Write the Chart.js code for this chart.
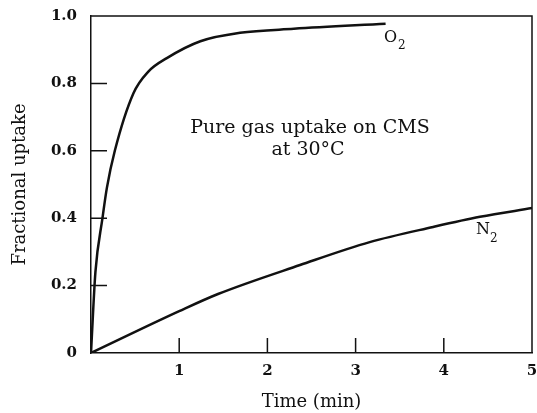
<!DOCTYPE html>
<html>
<head>
<meta charset="utf-8">
<script src="https://cdn.jsdelivr.net/npm/chart.js@4"></script>
<style>
  html, body { margin: 0; padding: 0; background: #fff; }
  #wrap { width: 537px; height: 413px; }
</style>
</head>
<body>
<div id="wrap"><canvas id="uptakeChart" width="537" height="413"></canvas></div>
<script>
// data
const o2Time   = [0, 0.05, 0.13, 0.18, 0.27, 0.48, 0.65, 0.86, 1.24, 1.69, 2.3, 3.34];
const o2Uptake = [0, 0.24, 0.40, 0.49, 0.60, 0.77, 0.835, 0.875, 0.925, 0.95, 0.962, 0.977];
const n2Time   = [0, 1.0, 1.44, 2.37, 3.16, 3.88, 4.41, 5.0];
const n2Uptake = [0, 0.124, 0.175, 0.261, 0.329, 0.374, 0.404, 0.43];
const xTicks = [1, 2, 3, 4, 5];
const yTicks = [0, 0.2, 0.4, 0.6, 0.8, 1.0];
const xInnerTicks = [1, 2, 3, 4];
const yInnerTicks = [0.2, 0.4, 0.6, 0.8];

const serif = '"DejaVu Serif", "Liberation Serif", serif';
const ink = '#111';

function toPoints(xs, ys) {
    return xs.map((x, i) => ({ x: x, y: ys[i] }));
}

// inward tick marks, frame box and annotations
const framePlugin = {
    id: 'framePlugin',
    afterDraw: function(chart) {
        const ctx = chart.ctx;
        const area = chart.chartArea;
        const xs = chart.scales.x;
        const ys = chart.scales.y;
        ctx.save();
        ctx.strokeStyle = ink;
        ctx.lineWidth = 1.5;
        ctx.beginPath();
        ctx.moveTo(area.left, area.top);
        ctx.lineTo(area.right, area.top);
        ctx.lineTo(area.right, area.bottom);
        ctx.stroke();
        ctx.beginPath();
        yInnerTicks.forEach(v => {
            const py = ys.getPixelForValue(v);
            ctx.moveTo(area.left, py);
            ctx.lineTo(area.left + 16, py);
        });
        xInnerTicks.forEach(v => {
            const px = xs.getPixelForValue(v);
            ctx.moveTo(px, area.bottom);
            ctx.lineTo(px, area.bottom - 15);
        });
        ctx.stroke();

        ctx.fillStyle = ink;
        ctx.textAlign = 'center';
        ctx.textBaseline = 'middle';
        ctx.font = '19px ' + serif;
        ctx.fillText('Pure gas uptake on CMS', 310, 128);
        ctx.fillText('at 30°C', 308, 150);

        // series labels with subscripts
        ctx.textAlign = 'left';
        ctx.font = '16px ' + serif;
        ctx.fillText('O', 384, 38);
        ctx.font = '12px ' + serif;
        ctx.fillText('2', 398, 46);
        ctx.font = '16px ' + serif;
        ctx.fillText('N', 476, 230);
        ctx.font = '12px ' + serif;
        ctx.fillText('2', 490, 239);
        ctx.restore();
    }
};

const chart = new Chart(document.getElementById('uptakeChart'), {
    type: 'scatter',
    data: {
        datasets: [
            {
                label: 'O2',
                data: toPoints(o2Time, o2Uptake),
                showLine: true,
                borderColor: ink,
                borderWidth: 2.5,
                pointRadius: 0,
                cubicInterpolationMode: 'monotone'
            },
            {
                label: 'N2',
                data: toPoints(n2Time, n2Uptake),
                showLine: true,
                borderColor: ink,
                borderWidth: 2.5,
                pointRadius: 0,
                cubicInterpolationMode: 'monotone'
            }
        ]
    },
    options: {
        responsive: false,
        animation: false,
        layout: { padding: { left: 0, right: 5, top: 16, bottom: 0 } },
        plugins: {
            legend: { display: false },
            tooltip: { enabled: false }
        },
        scales: {
            x: {
                type: 'linear',
                min: 0,
                max: 5,
                afterFit: function(scale) {
                    scale.height = 60;
                    scale.paddingLeft = 0;
                    scale.paddingRight = 0;
                },
                afterBuildTicks: function(scale) {
                    scale.ticks = xTicks.map(v => ({ value: v }));
                },
                grid: { display: false },
                border: { display: true, color: ink, width: 1.5 },
                ticks: {
                    color: ink,
                    font: { family: serif, size: 15, weight: 'bold' },
                    padding: 1
                },
                title: {
                    display: true,
                    text: 'Time (min)',
                    color: ink,
                    font: { family: serif, size: 18 },
                    padding: { top: 8, bottom: 0 }
                }
            },
            y: {
                min: 0,
                max: 1,
                afterFit: function(scale) {
                    scale.width = 91;
                    scale.paddingTop = 0;
                    scale.paddingBottom = 0;
                },
                afterBuildTicks: function(scale) {
                    scale.ticks = yTicks.map(v => ({ value: v }));
                },
                grid: { display: false },
                border: { display: true, color: ink, width: 1.5 },
                ticks: {
                    color: ink,
                    font: { family: serif, size: 15, weight: 'bold' },
                    padding: 6,
                    callback: function(v) { return v === 0 ? '0' : v.toFixed(1); }
                },
                title: {
                    display: true,
                    text: 'Fractional uptake',
                    color: ink,
                    font: { family: serif, size: 18 },
                    padding: { top: 10, bottom: 0 }
                }
            }
        }
    },
    plugins: [framePlugin]
});
</script>
</body>
</html>
